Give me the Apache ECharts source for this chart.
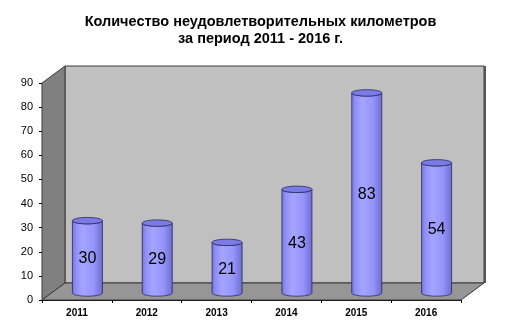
<!DOCTYPE html>
<html><head><meta charset="utf-8">
<script src="https://cdn.jsdelivr.net/npm/echarts@6/dist/echarts.min.js"></script>
<style>html,body{margin:0;padding:0;background:#fff}#c{width:521px;height:336px}</style>
</head><body><div id="c"></div>
<script>
const categories = ['2011','2012','2013','2014','2015','2016'];
const values = [30, 29, 21, 43, 83, 54];
const yTicks = [0,10,20,30,40,50,60,70,80,90];
const titleLines = ['Количество неудовлетворительных километров','за период 2011 - 2016 г.'];

const DX = 23, DY = -17;      // depth of the 3D box
const CDX = 10.5, CDY = -7;   // cylinder depth position

const chart = echarts.init(document.getElementById('c'), null, {renderer:'canvas'});

function ellipsePts(cx, cy, rx, ry, a0, a1, n){
  const pts = [];
  for (let i = 0; i <= n; i++){
    const a = a0 + (a1 - a0) * i / n;
    pts.push([cx + rx*Math.cos(a), cy + ry*Math.sin(a)]);
  }
  return pts;
}

function renderWalls(params, api){
  const cs = params.coordSys;
  const x0 = cs.x, x1 = cs.x + cs.width, y0 = cs.y, y1 = cs.y + cs.height;
  const st = {stroke:'#3a3a3a', lineWidth:1};
  return {type:'group', children:[
    {type:'polygon', shape:{points:[[x0+DX,y0+DY],[x1+DX,y0+DY],[x1+DX,y1+DY],[x0+DX,y1+DY]]},
      style:Object.assign({fill:'#c0c0c0'}, st)},
    {type:'polygon', shape:{points:[[x0,y0],[x0+DX,y0+DY],[x0+DX,y1+DY],[x0,y1]]},
      style:Object.assign({fill:'#808080'}, st)},
    {type:'polygon', shape:{points:[[x0,y1],[x0+DX,y1+DY],[x1+DX,y1+DY],[x1,y1]]},
      style:Object.assign({fill:'#969696'}, st)},
    {type:'line', shape:{x1:x1+DX+1, y1:y0+DY, x2:x1+DX+1, y2:y1+DY}, style:{stroke:'#555', lineWidth:2}}
  ]};
}

function renderCyl(params, api){
  const cat = api.value(0), v = api.value(1);
  const base = api.coord([cat, 0]);
  const top = api.coord([cat, v]);
  const bw = api.size([1, 0])[0];
  const rx = bw * 0.215, ry = 3.2;
  const cx = base[0] + CDX;
  const by = base[1] + CDY;
  const ty = top[1] + CDY;
  const body = [[cx - rx, ty]].concat(ellipsePts(cx, by, rx, ry, Math.PI, 0, 30)).concat([[cx + rx, ty]])
    .concat(ellipsePts(cx, ty, rx, ry, 0, Math.PI, 30));
  const grad = new echarts.graphic.LinearGradient(0, 0, 1, 0, [
    {offset:0, color:'#7070d8'},
    {offset:0.12, color:'#8e8ef6'},
    {offset:0.35, color:'#a4a4ff'},
    {offset:0.7, color:'#9595fa'},
    {offset:1, color:'#6b6bd0'}
  ]);
  return {type:'group', children:[
    {type:'polygon', shape:{points:body}, style:{fill:grad, stroke:'#2a2a60', lineWidth:0.8}},
    {type:'polygon', shape:{points:ellipsePts(cx, ty, rx, ry, 0, 2*Math.PI, 40)},
      style:{fill:'#7b7be6', stroke:'#2a2a60', lineWidth:0.8}},
    {type:'text', style:{text:String(v), x:cx, y:(ty+by)/2 + 2, align:'center', verticalAlign:'middle',
      fontSize:16, fontFamily:'Liberation Sans, Arial, sans-serif', fill:'#000'}}
  ]};
}

chart.setOption({
  animation:false,
  title:{
    text: titleLines.join('\n'), left:'center', top:9,
    textStyle:{fontSize:14.5, fontWeight:'bold', fontFamily:'Liberation Sans, Arial, sans-serif', color:'#000', lineHeight:16.5}
  },
  grid:{left:42, right:60, top:83, bottom:36, containLabel:false},
  xAxis:{
    type:'category', data:categories, boundaryGap:true,
    axisLine:{show:true, lineStyle:{color:'#000', width:1}},
    axisTick:{show:true, length:3, lineStyle:{color:'#000'}},
    axisLabel:{fontSize:10, fontWeight:'bold', fontFamily:'Liberation Sans, Arial, sans-serif', color:'#000', margin:8},
    splitLine:{show:false}
  },
  yAxis:{
    type:'value', min:0, max:90, interval:10,
    axisLine:{show:true, lineStyle:{color:'#000', width:1}},
    axisTick:{show:true, length:3, lineStyle:{color:'#000'}},
    axisLabel:{fontSize:11, fontFamily:'Liberation Sans, Arial, sans-serif', color:'#000', margin:9,
      formatter: v => yTicks.indexOf(v) >= 0 ? String(v) : ''},
    splitLine:{show:false}
  },
  series:[
    {type:'custom', z:1, renderItem:renderWalls, data:[[0,0]], silent:true},
    {type:'custom', z:3, renderItem:renderCyl, data:values.map((v,i)=>[i,v]), silent:true}
  ]
});
</script></body></html>
